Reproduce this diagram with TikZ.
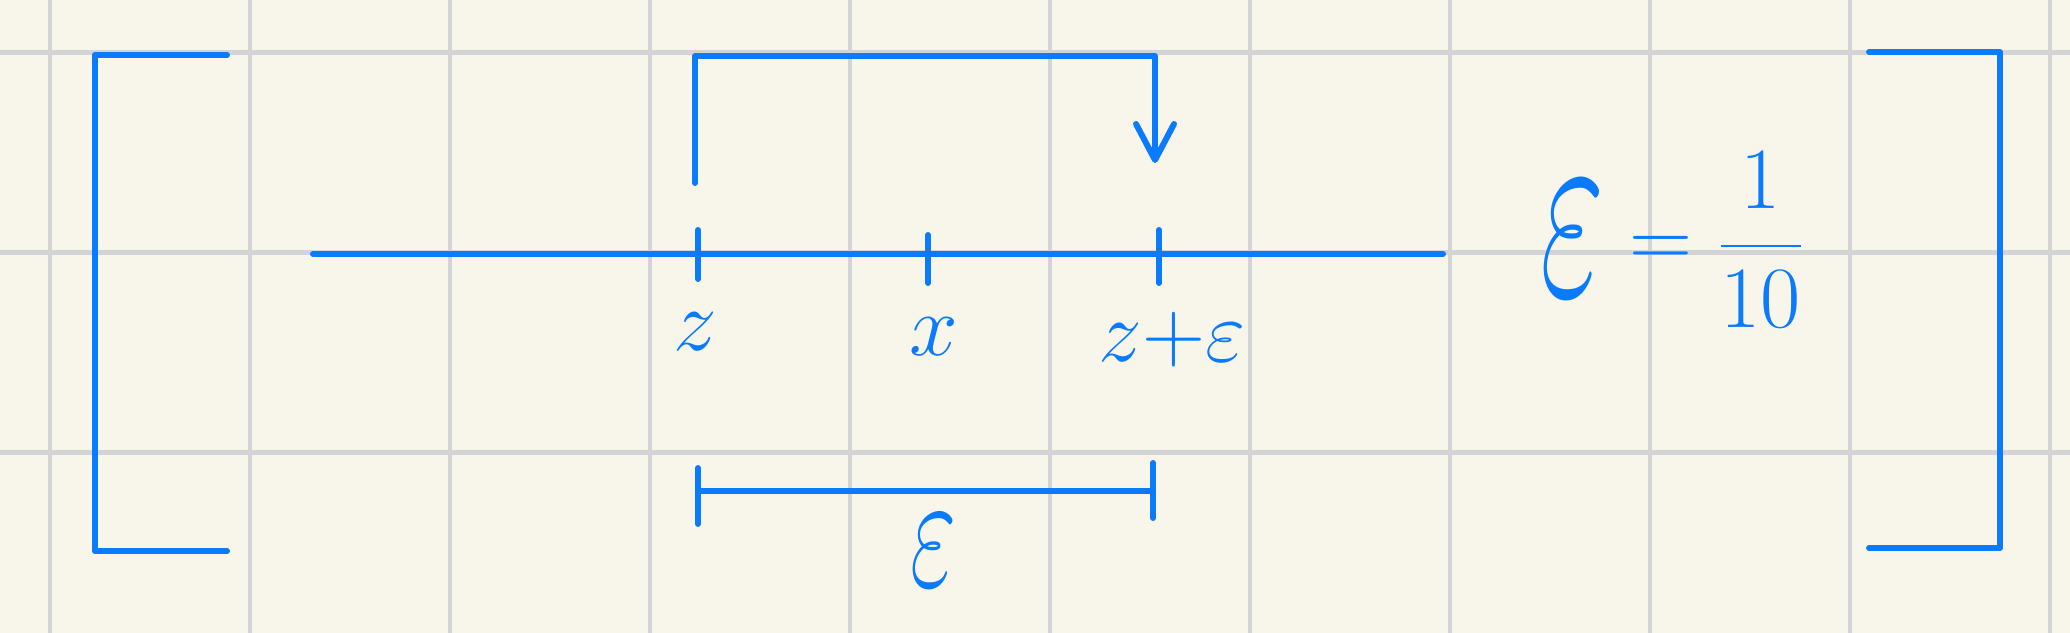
\documentclass[tikz,border=0pt]{standalone}
\usepackage{graphicx}
\usetikzlibrary{arrows.meta, positioning}
\definecolor{paper}{RGB}{248,246,234}
\definecolor{gridgray}{RGB}{211,212,214}
\definecolor{inkblue}{RGB}{10,123,255}
\newcommand{\bigeps}[3]{\raisebox{#3}{\scalebox{#1}[#2]{$\varepsilon$}}}

\begin{document}
\begin{tikzpicture}[>={Straight Barb[length=3.6mm, width=3.8mm, round]},
  ink/.style={draw=inkblue, line width=1.7pt, line cap=round, line join=round},
  lbl/.style={text=inkblue, font=\Huge, inner sep=0pt}]
  \useasboundingbox (0,0) rectangle (20.70,-6.33);
  \fill[paper] (0,0) rectangle (20.70,-6.33);
  % paper grid
  \foreach \x in {0.5,2.5,...,20.5} {\draw[gridgray, line width=1.3pt] (\x,0) -- (\x,-6.33);}
  \foreach \y in {-0.525,-2.525,-4.525} {\draw[gridgray, line width=1.3pt] (0,\y) -- (20.70,\y);}
  % outer brackets
  \draw[ink] (2.27,-0.55) -- (0.946,-0.55) -- (0.946,-5.51) -- (2.27,-5.51);
  \draw[ink] (18.69,-0.52) -- (20.0,-0.52) -- (20.0,-5.48) -- (18.69,-5.48);
  % number line with ticks
  \coordinate (A) at (3.13,-2.54);
  \coordinate (B) at (14.43,-2.54);
  \coordinate (Z) at (6.98,-2.54);
  \coordinate (X) at (9.28,-2.54);
  \coordinate (ZE) at (11.59,-2.54);
  \draw[ink] (A) -- (B);
  \draw[ink] (Z) ++(0,0.24) -- ++(0,-0.49);
  \draw[ink] (X) ++(0,0.19) -- ++(0,-0.48);
  \draw[ink] (ZE) ++(0,0.24) -- ++(0,-0.53);
  \node[lbl] (lz) at (6.95,-3.32) {$z$};
  \node[lbl] (lx) at (9.34,-3.37) {$x$};
  \node[lbl] (lze) at (11.72,-3.40) {$z{+}\varepsilon$};
  % shift from z to z+eps
  \coordinate (S) at (6.95,-1.83);
  \coordinate (T) at (11.55,-1.63);
  \draw[ink, ->] (S) -- (6.95,-0.56) -| (T);
  % width of the step
  \coordinate (L) at (6.98,-4.91);
  \coordinate (R) at (11.53,-4.91);
  \draw[ink] (L) -- (R);
  \draw[ink] (L) ++(0,0.23) -- ++(0,-0.56);
  \draw[ink] (R) ++(0,0.28) -- ++(0,-0.55);
  \node[lbl] (le) at (9.34,-5.51) {\bigeps{1.15}{1.9}{0pt}};
  \node[lbl] (eq) at (16.73,-2.40) {$\displaystyle\bigeps{1.6}{3.0}{-8pt}=\frac{1}{10}$};
\end{tikzpicture}
\end{document}
